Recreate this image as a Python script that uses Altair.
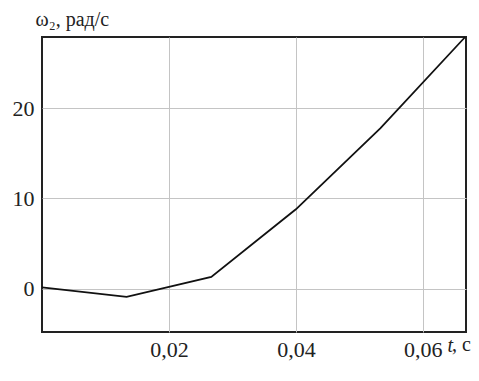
import altair as alt
import pandas as pd

t_vals = [0.0, 0.01333, 0.02667, 0.04, 0.05333, 0.06667]
omega_vals = [0.15, -0.9, 1.3, 8.8, 17.8, 27.9]
x_ticks = [0.02, 0.04, 0.06]
y_ticks = [0, 10, 20]

df = pd.DataFrame({"t": t_vals, "w": omega_vals})

FONT = "Liberation Serif, Times New Roman, serif"

line = alt.Chart(df).mark_line(color="#111111", strokeWidth=1.8).encode(
    x=alt.X("t:Q",
            scale=alt.Scale(domain=[0, 0.0668], nice=False, zero=False),
            axis=alt.Axis(values=x_ticks, grid=True, gridColor="#c4c4c4", gridWidth=1,
                          ticks=False, domain=False,
                          labelExpr="replace(format(datum.value, '.2f'), '.', ',')",
                          labelFont=FONT, labelFontSize=22, labelColor="#222222",
                          labelPadding=7,
                          title="t", titleFont=FONT, titleFontStyle="italic",
                          titleFontWeight="normal", titleFontSize=20, titleColor="#222222",
                          titleX=405, titleY=19, titleAlign="left",
                          titleBaseline="alphabetic")),
    y=alt.Y("w:Q",
            scale=alt.Scale(domain=[-4.8, 27.9], nice=False, zero=False),
            axis=alt.Axis(values=y_ticks, grid=True, gridColor="#c4c4c4", gridWidth=1,
                          ticks=False, domain=False, format="d",
                          labelFont=FONT, labelFontSize=22, labelColor="#222222",
                          labelPadding=8,
                          title="ω₂, рад/с", titleFont=FONT, titleFontSize=20,
                          titleFontWeight="normal", titleColor="#222222",
                          titleAngle=0, titleX=-7, titleY=-12,
                          titleAlign="left", titleBaseline="alphabetic")),
)

unit = alt.Chart(pd.DataFrame({"u": [", с"]})).mark_text(
    font=FONT, fontSize=20, color="#222222", align="left", baseline="alphabetic"
).encode(x=alt.value(410), y=alt.value(314), text="u:N")

chart = (line + unit).properties(
    width=424, height=295,
    padding={"left": 34, "top": 29, "right": 5, "bottom": 40},
    autosize=alt.AutoSizeParams(type="none"),
).configure_view(stroke="#222222", strokeWidth=2)

chart.save("out.html", embed_options={"renderer": "svg", "actions": False})
